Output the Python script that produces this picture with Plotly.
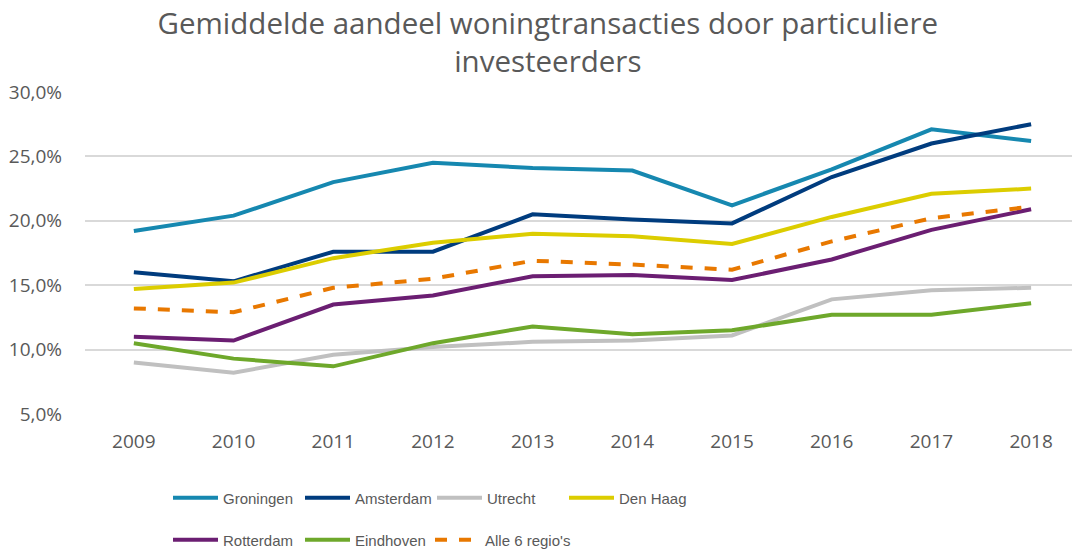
import plotly.graph_objects as go

years = [2009, 2010, 2011, 2012, 2013, 2014, 2015, 2016, 2017, 2018]
groningen = [19.2, 20.4, 23.0, 24.5, 24.1, 23.9, 21.2, 24.0, 27.1, 26.2]
amsterdam = [16.0, 15.3, 17.6, 17.6, 20.5, 20.1, 19.8, 23.4, 26.0, 27.5]
utrecht = [9.0, 8.2, 9.6, 10.2, 10.6, 10.7, 11.1, 13.9, 14.6, 14.8]
den_haag = [14.7, 15.2, 17.1, 18.3, 19.0, 18.8, 18.2, 20.3, 22.1, 22.5]
rotterdam = [11.0, 10.7, 13.5, 14.2, 15.7, 15.8, 15.4, 17.0, 19.3, 20.9]
eindhoven = [10.5, 9.3, 8.7, 10.5, 11.8, 11.2, 11.5, 12.7, 12.7, 13.6]
alle = [13.2, 12.9, 14.8, 15.5, 16.9, 16.6, 16.2, 18.4, 20.2, 21.1]

y_ticks = [5, 10, 15, 20, 25, 30]
y_ticktext = [f"{v:.1f}%".replace(".", ",") for v in y_ticks]

FONT = "Open Sans"
LEGEND_FONT = "Liberation Sans"
GREY = "#595959"

series = [
    ("Groningen", groningen, "#1688B0", "solid", "legend"),
    ("Amsterdam", amsterdam, "#003C7E", "solid", "legend"),
    ("Utrecht", utrecht, "#C0C0C0", "solid", "legend"),
    ("Den Haag", den_haag, "#DCCD00", "solid", "legend"),
    ("Rotterdam", rotterdam, "#6B1E72", "solid", "legend2"),
    ("Eindhoven", eindhoven, "#6EA82B", "solid", "legend2"),
    ("Alle 6 regio's", alle, "#E87800", "dash", "legend3"),
]

fig = go.Figure()
for name, vals, color, dash, lg in series:
    fig.add_trace(go.Scatter(
        x=years, y=vals, name=name, mode="lines",
        line=dict(color=color, width=4, dash=dash),
        legend=lg,
    ))

legend_common = dict(
    orientation="h", xanchor="left", yanchor="middle",
    xref="container", yref="container",
    font=dict(family=LEGEND_FONT, size=15, color=GREY),
    entrywidth=72, entrywidthmode="pixels",
    bgcolor="rgba(0,0,0,0)", itemwidth=45,
)

fig.update_layout(
    width=1072, height=550,
    margin=dict(l=85, r=0, t=92, b=136, autoexpand=False),
    paper_bgcolor="white", plot_bgcolor="white",
    title=dict(
        text="Gemiddelde aandeel woningtransacties door particuliere<br>investeerders",
        x=0.511, xanchor="center", xref="container",
        y=1 - 33.5 / 550, yanchor="middle", yref="container",
        font=dict(family=FONT, size=29.5, color=GREY),
    ),
    xaxis=dict(
        range=[2008.51, 2018.41], tickmode="array", tickvals=years,
        ticktext=[str(y) for y in years],
        showgrid=False, zeroline=False, showline=False,
        tickfont=dict(family=FONT, size=19, color=GREY),
        ticks="", ticklabelstandoff=14,
    ),
    yaxis=dict(
        range=[5, 30], tickmode="array", tickvals=y_ticks, ticktext=y_ticktext,
        showgrid=True, gridcolor="#D9D9D9", gridwidth=1.5,
        zeroline=False, showline=False,
        tickfont=dict(family=FONT, size=19, color=GREY),
        ticks="", ticklabelstandoff=22,
    ),
    legend=dict(x=168 / 1072, y=1 - 498 / 550, **legend_common),
    legend2=dict(x=168 / 1072, y=1 - 540 / 550, **legend_common),
    legend3=dict(x=(168 + 2 * 131) / 1072, y=1 - 540 / 550,
                 **{**legend_common, "entrywidth": 120}),
    showlegend=True,
)

fig.write_html(
    "out.html",
    config={"displayModeBar": False},
    post_script="document.body.style.margin='0';document.body.style.overflow='hidden';",
)
